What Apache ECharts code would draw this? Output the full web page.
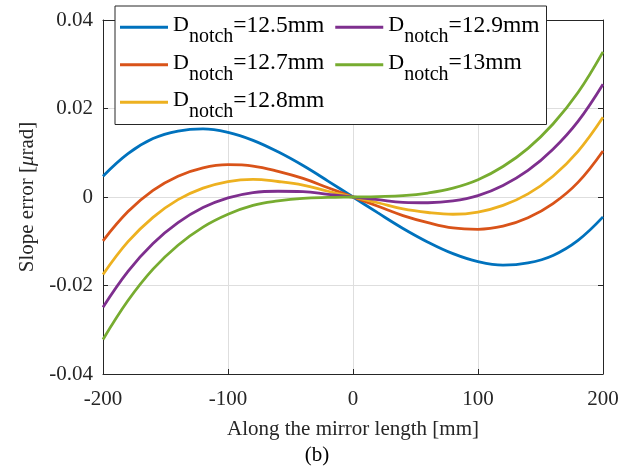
<!DOCTYPE html>
<html>
<head>
<meta charset="utf-8">
<script src="https://cdn.jsdelivr.net/npm/echarts@6/dist/echarts.min.js"></script>
<style>
html,body{margin:0;padding:0;background:#fff;}
#chart{width:634px;height:467px;}
</style>
</head>
<body>
<div id="chart"></div>
<script>
// Along the mirror length [mm]
const xs = [-200,-180,-160,-140,-120,-100,-80,-60,-40,-20,0,20,40,60,80,100,120,140,160,180,200];
// Slope error [μrad] for each notch depth
const d125 = [0.0047,0.0098,0.0132,0.0149,0.0154,0.0146,0.0128,0.0102,0.0071,0.0036,0,-0.0036,-0.0071,-0.0102,-0.0128,-0.0146,-0.0154,-0.0149,-0.0132,-0.0098,-0.0045];
const d127 = [-0.0099,-0.0033,0.0015,0.0047,0.0066,0.0073,0.0070,0.0058,0.0042,0.0021,0,-0.0021,-0.0042,-0.0058,-0.0070,-0.0073,-0.0066,-0.0047,-0.0015,0.0033,0.0104];
const d128 = [-0.0175,-0.0101,-0.0046,-0.0006,0.0020,0.0035,0.0040,0.0035,0.0027,0.0013,0,-0.0013,-0.0027,-0.0035,-0.0039,-0.0034,-0.0019,0.0007,0.0047,0.0103,0.0180];
const d129 = [-0.0249,-0.0168,-0.0105,-0.0058,-0.0024,-0.0002,0.0010,0.0013,0.0012,0.0006,0,-0.0006,-0.0012,-0.0013,-0.0009,0.0003,0.0026,0.0060,0.0108,0.0171,0.0255];
const d130 = [-0.0322,-0.0234,-0.0163,-0.0109,-0.0068,-0.0039,-0.0019,-0.0009,-0.0003,-0.0001,0,0.0001,0.0003,0.0009,0.0020,0.0039,0.0069,0.0110,0.0165,0.0236,0.0328];
const seriesNames = ['12.5','12.7','12.8','12.9','13'];
const seriesValues = [d125,d127,d128,d129,d130];
const colors = ['#0072BD','#D95319','#EDB120','#7E2F8E','#77AC30'];
const legendOrder = ['12.5','12.9','12.7','13','12.8'];
const xTicks = {min:-200,max:200,interval:100};
const yTicks = {min:-0.04,max:0.04,interval:0.02};

const FONT = 'Liberation Serif';
const chart = echarts.init(document.getElementById('chart'), null, {renderer:'canvas'});

const axisCommon = {
  axisLine:{show:true,onZero:false,lineStyle:{color:'#262626',width:1}},
  axisTick:{show:true,inside:true,length:5,lineStyle:{color:'#262626',width:1}},
};

const option = {
  animation:false,
  backgroundColor:'#fff',
  grid:{left:103,right:31,top:20,bottom:93,containLabel:false},
  xAxis:[{
    type:'value',min:xTicks.min,max:xTicks.max,interval:xTicks.interval,position:'bottom',
    ...axisCommon,
    axisLabel:{show:true,margin:15,color:'#262626',fontFamily:FONT,fontSize:21},
    splitLine:{show:true,lineStyle:{color:'#dedede',width:1}},
    name:'Along the mirror length [mm]',nameLocation:'middle',nameGap:45,
    nameTextStyle:{color:'#262626',fontFamily:FONT,fontSize:21}
  },{
    type:'value',min:xTicks.min,max:xTicks.max,interval:xTicks.interval,position:'top',
    ...axisCommon,axisLabel:{show:false},splitLine:{show:false}
  }],
  yAxis:[{
    type:'value',min:yTicks.min,max:yTicks.max,interval:yTicks.interval,position:'left',
    ...axisCommon,
    axisLabel:{show:true,margin:10,color:'#262626',fontFamily:FONT,fontSize:21,
      formatter:v=>Math.abs(v)<1e-9?'0':v.toFixed(2)},
    splitLine:{show:true,lineStyle:{color:'#dedede',width:1}},
    name:'Slope error [{i|μ}rad]',nameLocation:'middle',nameGap:62,
    nameTextStyle:{color:'#262626',fontFamily:FONT,fontSize:21,
      rich:{i:{fontFamily:FONT,fontSize:21,fontStyle:'italic',color:'#262626'}}}
  },{
    type:'value',min:yTicks.min,max:yTicks.max,interval:yTicks.interval,position:'right',
    ...axisCommon,axisLabel:{show:false},splitLine:{show:false}
  }],
  legend:{
    show:true,left:115,top:6,width:430,orient:'horizontal',
    data:legendOrder,
    padding:[7.7,0,2.3,5],itemGap:4,itemWidth:48,itemHeight:3,icon:'rect',
    backgroundColor:'#fff',borderColor:'#262626',borderWidth:1,z:20,
    formatter:n=>'{d|D}{s|notch}{t|='+n+'mm}{g|  }',
    textStyle:{color:'#000',fontFamily:FONT,
      rich:{
        d:{fontFamily:FONT,fontSize:22,color:'#000',height:10,padding:[8.5,0,11.5,0]},
        s:{fontFamily:FONT,fontSize:20,color:'#000',height:10,padding:[20,0,0,0]},
        t:{fontFamily:FONT,fontSize:23.5,color:'#000',height:10,padding:[8.5,0,11.5,0]},
        g:{fontFamily:FONT,fontSize:14,color:'#000',height:10,padding:[8.5,0,11.5,0]}
      }}
  },
  graphic:[{
    type:'text',left:'center',top:445,
    style:{text:'(b)',fontFamily:FONT,fontSize:21,fill:'#000'}
  }],
  series:seriesNames.map((n,i)=>({
    name:n,type:'line',xAxisIndex:0,yAxisIndex:0,
    data:xs.map((x,j)=>[x,seriesValues[i][j]]),
    smooth:0.4,showSymbol:false,symbol:'none',
    lineStyle:{color:colors[i],width:2.8},itemStyle:{color:colors[i]},
    z:2+i
  }))
};
chart.setOption(option);
</script>
</body>
</html>
